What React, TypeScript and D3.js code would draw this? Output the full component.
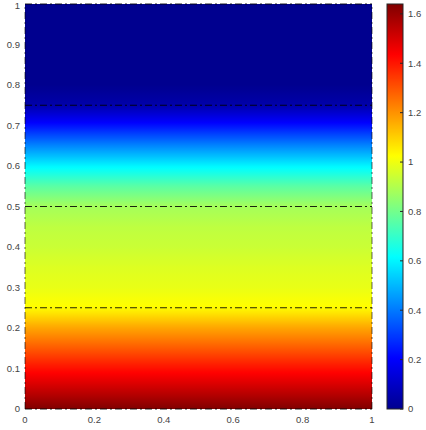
import React from 'react'
import * as d3 from 'd3'

// field profile: value read along y (it does not change along x)
const profileY = [0, 0.05, 0.1, 0.15, 0.2, 0.25, 0.3, 0.35, 0.4, 0.45, 0.5, 0.55, 0.6, 0.65, 0.7, 0.75, 0.8, 1]
const profileV = [1.64, 1.52, 1.41, 1.29, 1.17, 1.03, 0.99, 0.97, 0.94, 0.92, 0.88, 0.76, 0.6, 0.42, 0.23, 0.05, 0.0, 0.0]
const colorMax = 1.64

const xTicks = [0, 0.2, 0.4, 0.6, 0.8, 1]
const yTicks = [0, 0.1, 0.2, 0.3, 0.4, 0.5, 0.6, 0.7, 0.8, 0.9, 1]
const cbTicks = [0, 0.2, 0.4, 0.6, 0.8, 1, 1.2, 1.4, 1.6]

// sub-domain boundaries drawn dash-dot
const boundaryY = [0, 0.25, 0.5, 0.75, 1]
const boundaryX = [0, 1]

const jetStops = [0, 0.125, 0.375, 0.625, 0.875, 1]
const jetColors = ['#00008f', '#0000ff', '#00ffff', '#ffff00', '#ff0000', '#800000']

export default function App() {
  const width = 426
  const height = 430
  const plot = { left: 25, right: 372, top: 4, bottom: 409 }
  const cbar = { left: 387, right: 403 }

  const x = d3.scaleLinear().domain([0, 1]).range([plot.left, plot.right])
  const y = d3.scaleLinear().domain([0, 1]).range([plot.bottom, plot.top])
  const cy = d3.scaleLinear().domain([0, colorMax]).range([plot.bottom, plot.top])

  const profile = d3.scaleLinear().domain(profileY).range(profileV).clamp(true)
  const jet = d3.scaleLinear<string>()
    .domain(jetStops.map(t => t * colorMax))
    .range(jetColors)
    .interpolate(d3.interpolateRgb)
    .clamp(true)

  const fmt = d3.format('~g')
  const steps = d3.range(0, 301).map(i => i / 300)
  const font = 'Liberation Sans, Arial, Helvetica, sans-serif'
  const dash = '7,3,2,3'

  return (
    <svg width={width} height={height} style={{ position: 'absolute', left: 0, top: 0, background: '#fff' }}>
      <defs>
        <linearGradient id="field" x1="0" y1="1" x2="0" y2="0">
          {steps.map((t, i) => (
            <stop key={i} offset={t} stopColor={jet(profile(t))} />
          ))}
        </linearGradient>
        <linearGradient id="cbar" x1="0" y1="1" x2="0" y2="0">
          {steps.map((t, i) => (
            <stop key={i} offset={t} stopColor={jet(t * colorMax)} />
          ))}
        </linearGradient>
      </defs>

      <rect x={plot.left} y={plot.top} width={plot.right - plot.left} height={plot.bottom - plot.top} fill="url(#field)" />

      {boundaryY.map((b, i) => (
        <line key={'by' + i} x1={x(0)} x2={x(1)} y1={y(b)} y2={y(b)}
          stroke="#000" strokeWidth={1} strokeDasharray={dash} opacity={0.85} />
      ))}
      {boundaryX.map((b, i) => (
        <line key={'bx' + i} x1={x(b)} x2={x(b)} y1={y(0)} y2={y(1)}
          stroke="#000" strokeWidth={1} strokeDasharray={dash} opacity={0.6} />
      ))}

      <g fontFamily={font} fontSize={9.5} fill="#444">
        {yTicks.map((t, i) => (
          <text key={'yt' + i} x={plot.left - 5} y={Math.max(y(t), plot.top + 2)} dy="0.35em" textAnchor="end">{fmt(t)}</text>
        ))}
        {xTicks.map((t, i) => (
          <text key={'xt' + i} x={x(t)} y={plot.bottom + 11} dy="0.35em" textAnchor="middle">{fmt(t)}</text>
        ))}
      </g>

      <rect x={cbar.left} y={plot.top} width={cbar.right - cbar.left} height={plot.bottom - plot.top}
        fill="url(#cbar)" stroke="#262626" strokeWidth={1} />
      <g fontFamily={font} fontSize={9.5} fill="#444">
        {cbTicks.map((t, i) => (
          <g key={'ct' + i}>
            <line x1={cbar.right - 3} x2={cbar.right} y1={cy(t)} y2={cy(t)} stroke="#262626" strokeWidth={1} />
            <text x={cbar.right + 5} y={cy(t)} dy="0.35em">{fmt(t)}</text>
          </g>
        ))}
      </g>
    </svg>
  )
}
